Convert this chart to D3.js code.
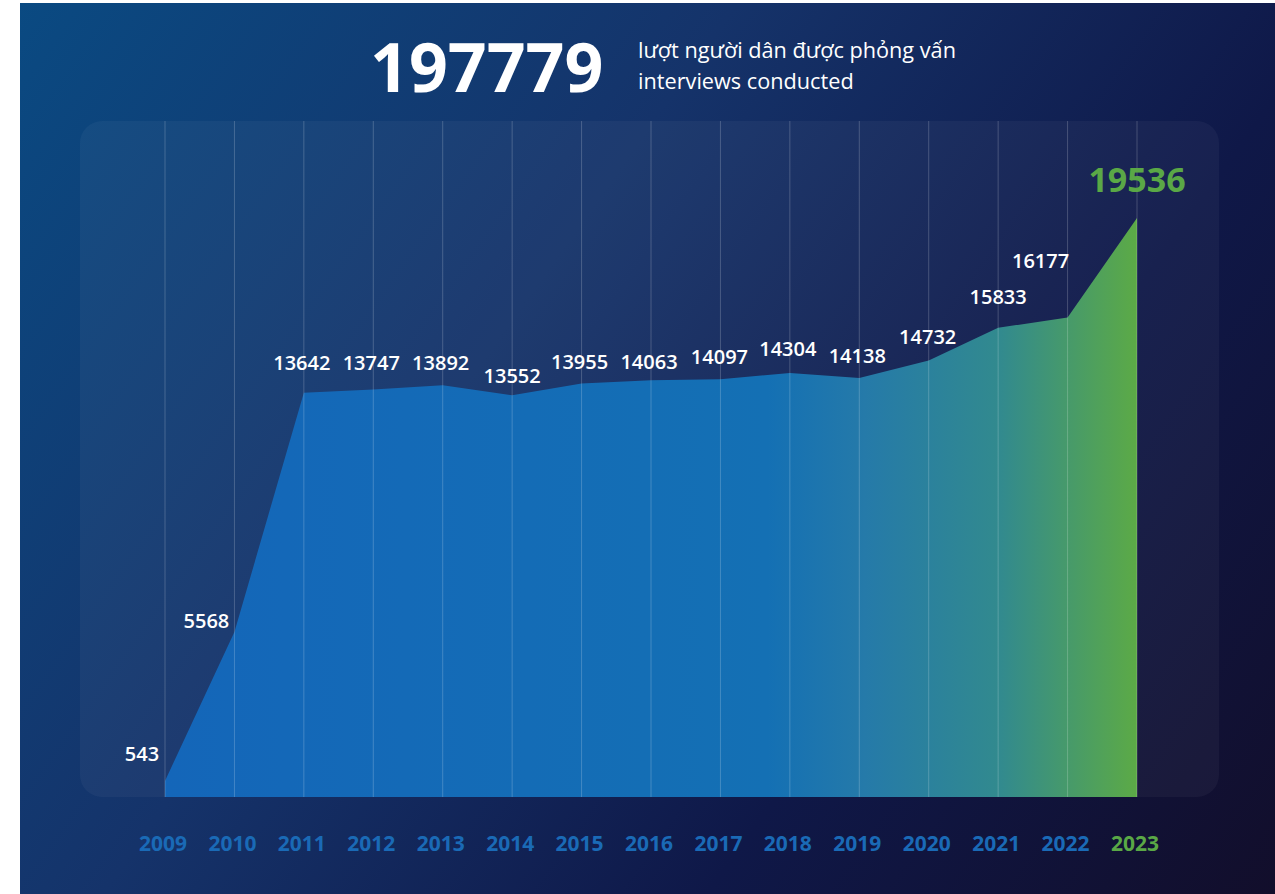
<!DOCTYPE html>
<html>
<head>
<meta charset="utf-8">
<script src="https://cdn.jsdelivr.net/npm/d3@7"></script>
<style>
  body { margin: 0; background: #fff; }
  svg { display: block; font-family: 'Open Sans', 'Noto Sans', sans-serif; }
</style>
</head>
<body>
<svg id="chart"></svg>
<script>
const years = ['2009', '2010', '2011', '2012', '2013', '2014', '2015', '2016', '2017', '2018', '2019', '2020', '2021', '2022', '2023'];
const interviews = [543, 5568, 13642, 13747, 13892, 13552, 13955, 14063, 14097, 14304, 14138, 14732, 15833, 16177, 19536];
const totalLabel = '197779';
const subtitleVi = 'lượt người dân được phỏng vấn';
const subtitleEn = 'interviews conducted';

const width = 1275;
const height = 894;
const panel = {x: 80, y: 121, w: 1139, h: 676};
const bottom = panel.y + panel.h;

// hand placement of the value labels, relative to each point
const labelDx = [-23, -28, -2, -2, -2, 0, -2, -2, -1, -2, -2, -1, 0, -27, 0];
const labelDy = [-20, -4, -23, -20, -15, -12, -14, -11, -15, -17, -15, -16, -24, -50, -26];

const svg = d3.select('#chart')
    .attr('width', width)
    .attr('height', height);

const defs = svg.append('defs');
const bg = defs.append('linearGradient')
    .attr('id', 'bg')
    .attr('gradientUnits', 'userSpaceOnUse')
    .attr('x1', 20).attr('y1', 0)
    .attr('x2', 1275).attr('y2', 894);
bg.append('stop').attr('offset', '0%').attr('stop-color', '#0a4a82');
bg.append('stop').attr('offset', '38%').attr('stop-color', '#15336a');
bg.append('stop').attr('offset', '70%').attr('stop-color', '#0f1848');
bg.append('stop').attr('offset', '100%').attr('stop-color', '#120e2b');

const x = d3.scalePoint()
    .domain(years)
    .range([165, 1137]);
const y = d3.scaleLinear()
    .domain([0, d3.max(interviews)])
    .range([bottom, 218]);

const fill = defs.append('linearGradient')
    .attr('id', 'fill')
    .attr('gradientUnits', 'userSpaceOnUse')
    .attr('x1', x('2009')).attr('y1', 0)
    .attr('x2', x('2023')).attr('y2', 0);
fill.append('stop').attr('offset', '0%').attr('stop-color', '#1466b9');
fill.append('stop').attr('offset', '62%').attr('stop-color', '#1470b4');
fill.append('stop').attr('offset', '72%').attr('stop-color', '#257aa9');
fill.append('stop').attr('offset', '86%').attr('stop-color', '#328a8e');
fill.append('stop').attr('offset', '100%').attr('stop-color', '#5caa46');

svg.append('rect')
    .attr('x', 20)
    .attr('y', 3)
    .attr('width', width - 20)
    .attr('height', height - 3)
    .attr('fill', 'url(#bg)');

// title
svg.append('text')
    .attr('x', 370)
    .attr('y', 92)
    .attr('fill', '#fff')
    .attr('font-size', 68)
    .attr('font-weight', 700)
    .text(totalLabel);
svg.append('text')
    .attr('x', 638)
    .attr('y', 58)
    .attr('fill', '#fff')
    .attr('font-size', 21.7)
    .attr('font-weight', 400)
    .text(subtitleVi);
svg.append('text')
    .attr('x', 638)
    .attr('y', 89)
    .attr('fill', '#fff')
    .attr('font-size', 21.7)
    .attr('font-weight', 400)
    .text(subtitleEn);

svg.append('rect')
    .attr('x', panel.x)
    .attr('y', panel.y)
    .attr('width', panel.w)
    .attr('height', panel.h)
    .attr('rx', 22)
    .attr('fill', '#ffffff')
    .attr('fill-opacity', 0.04);

const area = d3.area()
    .x((d, i) => x(years[i]))
    .y0(bottom)
    .y1((d) => y(d));

svg.append('path')
    .datum(interviews)
    .attr('d', area)
    .attr('fill', 'url(#fill)');

svg.append('g')
    .selectAll('line')
    .data(years)
    .join('line')
    .attr('x1', (d) => x(d))
    .attr('x2', (d) => x(d))
    .attr('y1', panel.y)
    .attr('y2', bottom)
    .attr('stroke', '#ffffff')
    .attr('stroke-opacity', 0.2)
    .attr('stroke-width', 1);

const last = interviews.length - 1;
svg.append('g')
    .selectAll('text')
    .data(interviews)
    .join('text')
    .attr('x', (d, i) => x(years[i]) + labelDx[i])
    .attr('y', (d, i) => y(d) + labelDy[i])
    .attr('text-anchor', 'middle')
    .attr('fill', (d, i) => i === last ? '#5aa846' : '#ffffff')
    .attr('font-size', (d, i) => i === last ? 34 : 20)
    .attr('font-weight', (d, i) => i === last ? 700 : 600)
    .text((d) => d);

svg.append('g')
    .selectAll('text')
    .data(years)
    .join('text')
    .attr('x', (d) => x(d) - 2)
    .attr('y', 851)
    .attr('text-anchor', 'middle')
    .attr('fill', (d, i) => i === last ? '#5aa846' : '#1a6ab6')
    .attr('font-size', 21)
    .attr('font-weight', 700)
    .text((d) => d);
</script>
</body>
</html>
